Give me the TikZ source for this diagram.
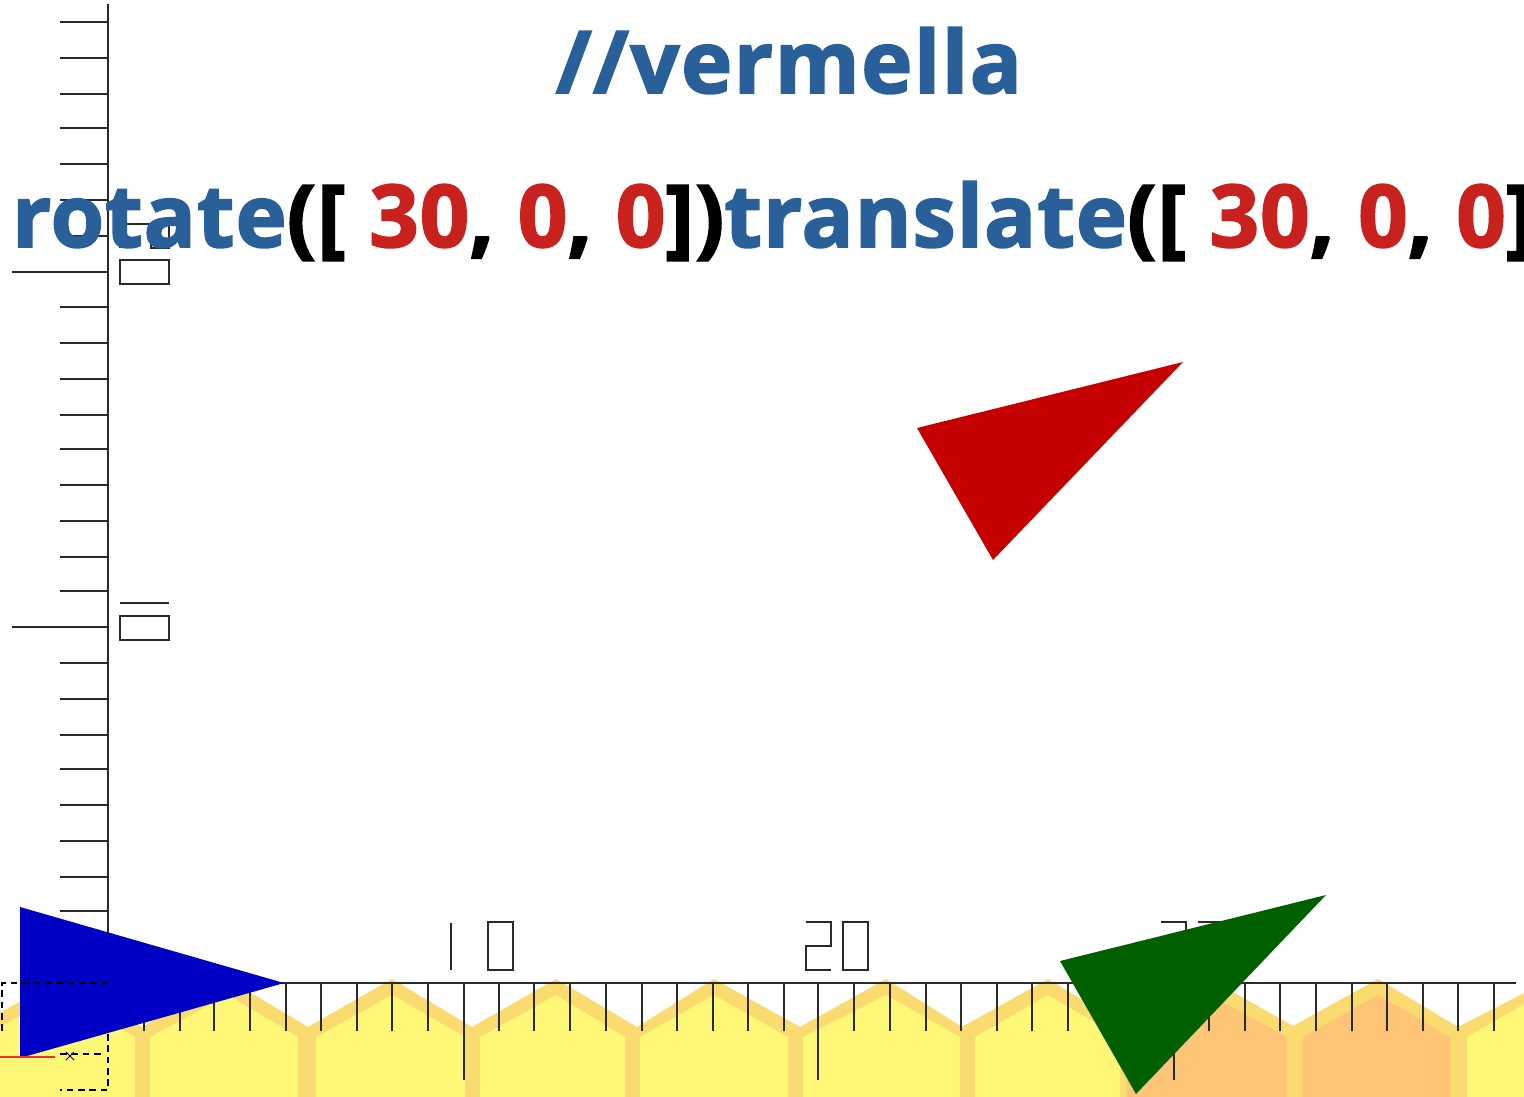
\documentclass[tikz,border=0pt]{standalone}
\usepackage{fontspec}
\setmainfont{Open Sans}
\newfontfamily\titlefont{Open Sans}[UprightFont={* Bold},FakeBold=2,LetterSpace=1.7]
\newfontfamily\codefont{Open Sans}[UprightFont={* Bold},FakeBold=2,LetterSpace=1.1]
\definecolor{kwblue}{HTML}{2A6099}
\definecolor{numred}{HTML}{C9211E}
\definecolor{band}{HTML}{FADB70}
\definecolor{cellyellow}{HTML}{FFF776}
\definecolor{cellorange}{HTML}{FDC575}
\definecolor{rulerline}{HTML}{2A2A2A}
\definecolor{triblue}{HTML}{0000C4}
\definecolor{trired}{HTML}{C40000}
\definecolor{trigreen}{HTML}{006000}
\definecolor{originred}{HTML}{F03030}
\tikzset{
  bigtext/.style={inner sep=0pt, outer sep=0pt},
  ruler/.style={draw=rulerline, line width=0.9pt},
  dashruler/.style={draw=black, line width=0.9pt, dash pattern=on 5pt off 3.5pt},
  tri/.style={fill=#1, draw=none}
}
\newcommand{\hcell}[4]{\fill[#4] (#1,1100) -- (#1,1037) -- (#2,995) -- (#3,1037) -- (#3,1100) -- cycle;}
\begin{document}
\begin{tikzpicture}[x=0.75pt,y=-0.75pt]
\clip (0,0) rectangle (1524,1096);
\fill[white] (0,0) rectangle (1524,1096);
% house band
\fill[band] (-20,1024) -- (60,979) -- (142,1027) -- (228,979) -- (308,1027) -- (392,979) -- (472,1027) -- (556,979) -- (637,1027) -- (714,979) -- (800,1027) -- (886,979) -- (962,1027) -- (1048,979) -- (1127,1027) -- (1210,979) -- (1293,1026) -- (1378,979) -- (1458,1027) -- (1540,985) -- (1540,1100) -- (-20,1100) -- cycle;
\hcell{-20}{60}{135}{cellyellow}
\hcell{150}{228}{298}{cellyellow}
\hcell{316}{392}{465}{cellyellow}
\hcell{480}{556}{625}{cellyellow}
\hcell{640}{714}{788}{cellyellow}
\hcell{803}{886}{960}{cellyellow}
\hcell{975}{1048}{1120}{cellyellow}
\hcell{1127}{1210}{1287}{cellorange}
\hcell{1303}{1378}{1450}{cellorange}
\hcell{1467}{1540}{1600}{cellyellow}
% y axis
\draw[ruler] (108,4) -- (108,983);
\foreach \y in {22,58,94,128,164,200,236,307,343,379,415,449,485,521,557,591,663,699,735,769,805,841,877,911}
  \draw[ruler] (60,\y) -- (108,\y);
\foreach \y in {272,627}
  \draw[ruler] (12,\y) -- (108,\y);
% x axis
\draw[ruler] (108,983) -- (1516,983);
\foreach \x in {144,180,214,250,286,321,357,392,428,499,534,570,606,642,677,713,748,784,854,890,926,961,997,1032,1068,1104,1140,1209,1245,1280,1316,1352,1387,1423,1458,1494}
  \draw[ruler] (\x,983) -- (\x,1031);
\foreach \x in {464,818,1174}
  \draw[ruler] (\x,983) -- (\x,1080);
% ruler digits, x axis
\draw[ruler] (451,923) -- (451,970);
\draw[ruler] (488,922) rectangle (513,970);
\draw[ruler] (806,922) -- (831,922) -- (831,946) -- (806,946) -- (806,970) -- (831,970);
\draw[ruler] (843,922) rectangle (868,970);
\draw[ruler] (1161,922) -- (1186,922) -- (1186,946);
\draw[ruler] (1198,922) -- (1222,922);
% ruler digits, y axis
\draw[ruler] (120,603) -- (169,603);
\draw[ruler] (120,616) rectangle (169,640);
\draw[ruler] (120,248) -- (120,224) -- (169,224);
\draw[ruler] (151,224) -- (151,248) -- (169,248) -- (169,224);
\draw[ruler] (120,260) rectangle (169,284);
% triangles
\fill[tri=triblue] (20,907) -- (284,983) -- (20,1058) -- cycle;
\fill[tri=trired] (917,428) -- (1183,362) -- (993,560) -- cycle;
\fill[tri=trigreen] (1060,961) -- (1326,895) -- (1136,1094) -- cycle;
% dashed box and origin
\draw[dashruler] (2,1031) -- (2,983) -- (108,983);
\draw[dashruler] (60,1054) -- (104,1054);
\draw[dashruler] (108,1034) -- (108,1090) -- (60,1090);
\draw[draw=black, line width=0.6pt] (66,1052) -- (74,1060) (66,1060) -- (74,1052);
\draw[draw=originred, line width=0.9pt] (0,1057) -- (55,1057);
% text
\node[bigtext, text=kwblue, anchor=base] (title) at (789,93) {\fontsize{65}{70}\titlefont //vermella};
\node[bigtext, anchor=base west] (code) at (12,247) {\fontsize{65}{70}\codefont \textcolor{kwblue}{rotate}([ \textcolor{numred}{30}, \textcolor{numred}{0}, \textcolor{numred}{0}])\textcolor{kwblue}{translate}([ \textcolor{numred}{30}, \textcolor{numred}{0}, \textcolor{numred}{0}])};
\end{tikzpicture}
\end{document}
